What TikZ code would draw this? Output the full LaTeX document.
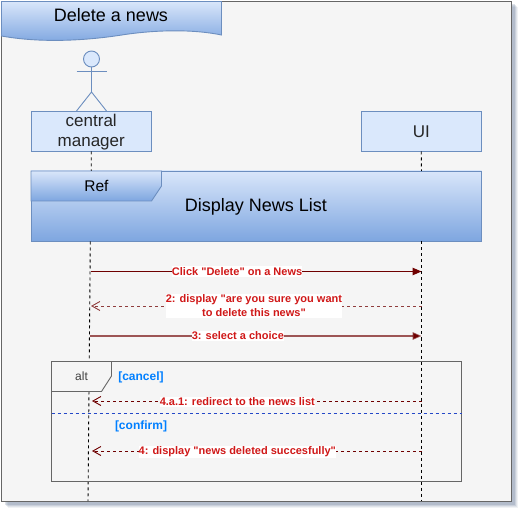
\documentclass[tikz,border=0pt]{standalone}
\usepackage{fontspec}
\setmainfont{Liberation Sans}[Ligatures=TeXOff]
\usetikzlibrary{arrows.meta}
\definecolor{boxfill}{HTML}{DAE8FC}
\definecolor{boxline}{HTML}{6C8EBF}
\definecolor{gradtop}{HTML}{D9E6FA}
\definecolor{gradbot}{HTML}{7EA6E0}
\definecolor{framefill}{HTML}{F5F5F5}
\definecolor{frameline}{HTML}{666666}
\definecolor{msgtext}{HTML}{D01818}
\definecolor{msgline}{HTML}{6F0000}
\definecolor{guard}{HTML}{007FFF}
\definecolor{divider}{HTML}{2448C8}
\tikzset{
  every node/.style={inner sep=0pt,outer sep=0pt},
  lbox/.style={draw=boxline,fill=boxfill,line width=.9pt,minimum width=120.5pt,minimum height=40.5pt,align=center,font=\fontsize{17}{20.8}\selectfont,text=black!85},
  boxtext/.style={align=center,font=\fontsize{17}{20.8}\selectfont,text=black!85},
  grad/.style={draw=boxline,line width=.9pt,top color=gradtop,bottom color=gradbot},
  actorline/.style={draw=boxline,line width=.9pt},
  life/.style={draw=black,line width=.9pt,dash pattern=on 3pt off 3pt},
  msg/.style={fill=white,text=msgtext,font=\fontsize{11}{14}\selectfont\bfseries,align=center,inner ysep=1pt},
  guardtext/.style={text=guard,font=\fontsize{12}{14}\selectfont\bfseries},
  solidmsg/.style={draw=msgline,line width=1pt,-{Triangle[length=9pt,width=7.5pt]}},
  replymsg/.style={draw=msgline,line width=.9pt,dash pattern=on 3pt off 3pt,-{Straight Barb[length=8pt,width=9pt]}},
  altline/.style={draw=frameline,line width=.9pt},
}
\begin{document}
\begin{tikzpicture}[x=1pt,y=-1pt]
\useasboundingbox (0,0) rectangle (519,510);
\fill[white] (0,0) rectangle (519,510);
% frame with soft shadow
\foreach \d/\o in {6/.08,5/.10,4/.14,3/.18}{
  \fill[boxline!70!black,opacity=\o] (1.5+\d,1.5+\d) rectangle (511.5+\d,501.5+\d);
}
\path[fill=framefill,draw=frameline,line width=1pt] (1.5,1.5) rectangle (511.5,501.5);
% title banner
\path[grad] (1.5,1.5) -- (221.5,1.5) -- (221.5,35)
  .. controls (195,29.5) and (160,29.5) .. (125,34.5)
  .. controls (85,41) and (40,43) .. (1.5,36) -- cycle;
\node (title) at (111,15) {\fontsize{18}{22}\selectfont Delete a news};
% actor
\node[circle,draw=boxline,fill=boxfill,line width=.9pt,minimum size=16pt] (head) at (91.5,59) {};
\coordinate (hip) at (91.5,92);
\coordinate (armL) at (76.5,71);
\coordinate (armR) at (106.5,71);
\coordinate (footL) at (76.5,111);
\coordinate (footR) at (106.5,111);
\draw[actorline] (head.south) -- (hip);
\draw[actorline] (armL) -- (armR);
\draw[actorline] (footL) -- (hip) -- (footR);
% lifeline heads
\node[lbox] (cm) at (91.25,131.25) {};
\node[boxtext] (cmtext) at (91.25,132.2) {central\\manager};
\node[lbox] (ui) at (421.25,131.25) {UI};
% ref
\node[grad,minimum width=450.5pt,minimum height=70pt] (ref) at (256.25,206) {};
\node (reftext) at (256,206.5) {\fontsize{18}{22}\selectfont Display News List};
\path[grad] (31,171) -- (161.5,171) -- (161.5,186) -- (151.5,201) -- (31,201) -- cycle;
\node (reflabel) at (96.5,186) {\fontsize{15.5}{18}\selectfont Ref};
% lifeline anchors
\coordinate (cmtop) at (91.2,171);
\coordinate (uitop) at (421.5,171);
\coordinate (cmbot) at (90.3,241.5);
\coordinate (uibot) at (421.5,241.5);
\coordinate (cmend) at (88,501);
\coordinate (uiend) at (421.5,501);
\draw[life] (cm.south) -- (cmtop);
\draw[life] (ui.south) -- (uitop);
\draw[life] (cmbot) -- (cmend);
\draw[life] (uibot) -- (uiend);
% alt frame
\path[altline] (51.5,361.5) rectangle (461.5,481.5);
\path[altline,fill=framefill] (51.5,391.5) -- (101.5,391.5) -- (111.5,376) -- (111.5,361.5) -- (51.5,361.5) -- cycle;
\node[text=black!75] (altlabel) at (81.5,376) {\fontsize{12}{14}\selectfont alt};
\node[guardtext] (cancel) at (141,377) {[cancel]};
\node[guardtext] (confirm) at (141,426.5) {[confirm]};
\coordinate (divL) at (51.5,413);
\coordinate (divR) at (461.5,413);
\draw[draw=divider,line width=.9pt,dash pattern=on 3.5pt off 2.5pt] (divL) -- (divR);
% messages
\coordinate (m1a) at (91,271.5);  \coordinate (m1b) at (421.5,271.5);
\coordinate (m2a) at (421.5,306); \coordinate (m2b) at (91,306);
\coordinate (m3a) at (90,336);    \coordinate (m3b) at (421.5,336);
\coordinate (m4a) at (421.5,401); \coordinate (m4b) at (92,401);
\coordinate (m5a) at (421.5,451); \coordinate (m5b) at (92,451);
\draw[solidmsg] (m1a) -- node[msg,pos=.442] (t1) {Click "Delete" on a News} (m1b);
\draw[replymsg,draw opacity=.75] (m2a) -- node[msg,pos=.507] (t2) {2: display "are you sure you want\\to delete this news"} (m2b);
\draw[solidmsg,line width=1.6pt,draw opacity=.65] (m3a) -- node[msg,pos=.446] (t3) {3: select a choice} (m3b);
\draw[replymsg] (m4a) -- node[msg,pos=.559,yshift=-.7pt] (t4) {4.a.1: redirect to the news list} (m4b);
\draw[replymsg] (m5a) -- node[msg,pos=.559,yshift=-1pt] (t5) {4: display "news deleted succesfully"} (m5b);
\end{tikzpicture}
\end{document}
